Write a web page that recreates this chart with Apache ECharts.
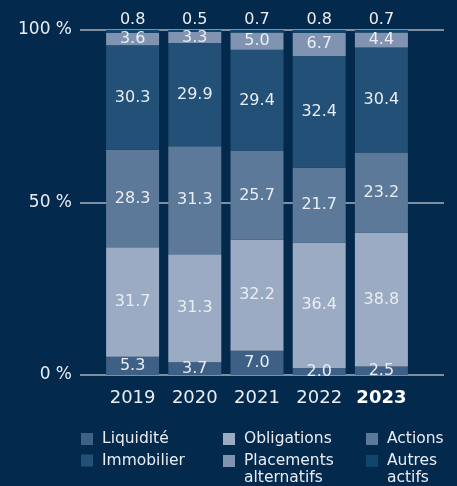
<!DOCTYPE html>
<html><head><meta charset="utf-8">
<script src="https://cdn.jsdelivr.net/npm/echarts@6/dist/echarts.min.js"></script>
<style>html,body{margin:0;padding:0;background:#03294c;}#c{width:457px;height:486px;}</style>
</head><body><div id="c"></div>
<script>
const years = ['2019','2020','2021','2022','2023'];
const seriesNames = ['Liquidité','Obligations','Actions','Immobilier','Placements alternatifs','Autres actifs'];
const liquidite = [5.3, 3.7, 7.0, 2.0, 2.5];
const obligations = [31.7, 31.3, 32.2, 36.4, 38.8];
const actions = [28.3, 31.3, 25.7, 21.7, 23.2];
const immobilier = [30.3, 29.9, 29.4, 32.4, 30.4];
const placements = [3.6, 3.3, 5.0, 6.7, 4.4];
const autres = [0.8, 0.5, 0.7, 0.8, 0.7];
const yTicks = [0, 50, 100];

const values = [liquidite, obligations, actions, immobilier, placements, autres];
const colors = ['#3e6085','#9babc4','#5c7999','#225076','#8094b2','#10466b'];
const FONT = 'DejaVu Sans';
const TXT = '#e9edf3';

const chart = echarts.init(document.getElementById('c'), null, {renderer:'canvas'});

const series = seriesNames.map((n,i)=>({
  name: n, type: 'bar', stack: 'total', xAxisIndex: 1, yAxisIndex: 1,
  barWidth: 53, data: values[i],
  itemStyle: {color: colors[i]},
  label: {
    show: true,
    position: i === 5 ? 'top' : 'inside',
    distance: 2,
    color: TXT, fontFamily: FONT, fontSize: 16,
    formatter: p => p.value.toFixed(1)
  }
}));

// legend layout: 3 columns, 2 rows
const colX = [81, 223, 366];
const rowY = [434, 455.5];
const LH = 16.5;
const legends = seriesNames.map((n,i)=>{
  const col = i % 3, row = Math.floor(i/3);
  const twoLine = n.indexOf(' ') > 0;
  return {
    data: [n], left: colX[col], top: rowY[row] - (twoLine ? 19 : 3),
    itemWidth: 12, itemHeight: 12, itemGap: 0, padding: 0,
    icon: 'rect', selectedMode: false,
    formatter: name => twoLine
      ? '{t|\u00a0}\n{t|' + name.split(' ').join('}\n{t|') + '}'
      : '{t|' + name + '}',
    textStyle: {color: TXT, fontFamily: FONT, fontSize: 15.5,
      rich: {t: {color: TXT, fontFamily: FONT, fontSize: 15.5, lineHeight: LH, padding: [0,0,0,4]}}}
  };
});

chart.setOption({
  backgroundColor: '#03294c',
  animation: false,
  legend: legends,
  grid: [
    {left: 80, right: 13, top: 30, bottom: 111},
    {left: 101.5, right: 44.5, top: 30, bottom: 111}
  ],
  xAxis: [
    {gridIndex: 0, type: 'value', min: 0, max: 1, show: false},
    {gridIndex: 1, type: 'category', data: years,
      axisLine: {show: false}, axisTick: {show: false},
      axisLabel: {interval: 0, color: TXT, fontFamily: FONT, fontSize: 18, margin: 14,
        formatter: (v,i) => i === years.length-1 ? '{b|'+v+'}' : v,
        rich: {b: {fontWeight: 'bold', color: '#ffffff', fontFamily: FONT, fontSize: 18}}}}
  ],
  yAxis: [
    {gridIndex: 0, type: 'value', min: yTicks[0], max: yTicks[yTicks.length-1], interval: yTicks[1]-yTicks[0],
      axisLine: {show: false}, axisTick: {show: false},
      splitLine: {show: true, lineStyle: {color: '#a9b2be', width: 1.5}},
      axisLabel: {color: TXT, fontFamily: FONT, fontSize: 17, margin: 8, formatter: '{value} %'}},
    {gridIndex: 1, type: 'value', min: 0, max: 100, show: false, splitLine: {show: false}}
  ],
  series: series
});
</script></body></html>
